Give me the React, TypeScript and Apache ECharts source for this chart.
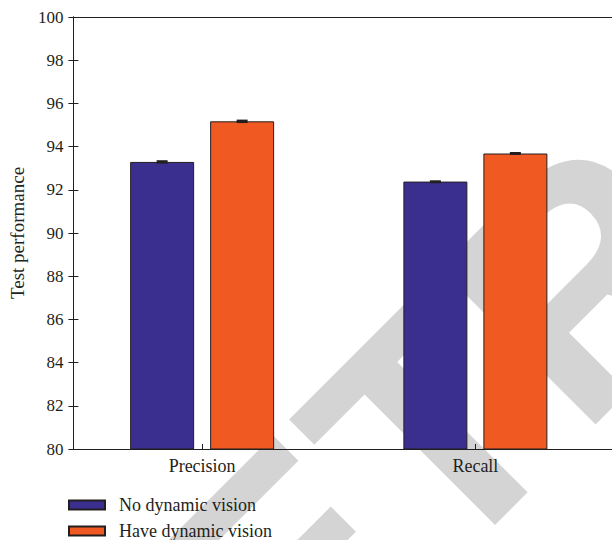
import React, { useEffect, useRef } from "react";
import * as echarts from "echarts";

const categories = ["Precision", "Recall"];
const seriesNames = ["No dynamic vision", "Have dynamic vision"];
const noDynamic = [93.29, 92.38];
const haveDynamic = [95.17, 93.68];
const noDynamicErr = [0.08, 0.06];
const haveDynamicErr = [0.08, 0.07];
const yTicks = { min: 80, max: 100, interval: 2 };

const FONT = "Liberation Serif";
const TEXT = "#231f20";
const BLUE = "#3a2f8f";
const ORANGE = "#f05a22";
const BAR_W = 64;
const BAR_GAP = 16;

function errorSeries(values: number[], errs: number[], side: number) {
  return {
    type: "custom",
    xAxisIndex: 2,
    yAxisIndex: 2,
    z: 5,
    silent: true,
    data: values.map((v, i) => [i, v, errs[i]]),
    renderItem: (params: any, api: any) => {
      const i = api.value(0);
      const v = api.value(1);
      const e = api.value(2);
      const top = api.coord([i, v + e]);
      const bot = api.coord([i, v - e]);
      const cx = top[0] + side * (BAR_W / 2 + BAR_GAP / 2);
      const capW = 11;
      return {
        type: "rect",
        shape: { x: cx - capW / 2, y: top[1], width: capW, height: Math.max(3, bot[1] - top[1]) },
        style: { fill: TEXT },
      };
    },
  };
}

export default function App() {
  const ref = useRef<HTMLDivElement>(null);
  useEffect(() => {
    if (!ref.current) return;
    const chart = echarts.init(ref.current, undefined, { renderer: "svg" });
    const F = 320;
    chart.setOption({
      animation: false,
      backgroundColor: "#ffffff",
      graphic: {
        elements: [
          {
            type: "text",
            x: 747,
            y: 116,
            rotation: Math.PI / 4,
            z: -10,
            silent: true,
            style: {
              text: "RETRACTED",
              fontSize: F,
              fontWeight: "bold",
              fontFamily: "Liberation Sans",
              fill: "#d4d4d4",
              textAlign: "center",
              textVerticalAlign: "middle",
            },
          },
        ],
      },
      grid: [
        { left: 70, top: 17, width: 543, height: 432, containLabel: false },
        { left: 65.5, top: 17, width: 555, height: 432, containLabel: false },
      ],
      xAxis: [
        {
          gridIndex: 0,
          type: "value",
          position: "bottom",
          min: 0,
          max: 1,
          axisLine: { show: true, lineStyle: { color: TEXT, width: 1 } },
          axisTick: { show: false },
          axisLabel: { show: false },
          splitLine: { show: false },
        },
        {
          gridIndex: 0,
          type: "value",
          position: "top",
          min: 0,
          max: 1,
          axisLine: { show: true, lineStyle: { color: TEXT, width: 1 } },
          axisTick: { show: false },
          axisLabel: { show: false },
          splitLine: { show: false },
        },
        {
          gridIndex: 1,
          type: "category",
          data: categories,
          position: "bottom",
          axisLine: { show: false },
          axisTick: { show: true, inside: true, alignWithLabel: true, length: 5, lineStyle: { color: TEXT } },
          axisLabel: { color: TEXT, fontFamily: FONT, fontSize: 18, margin: 8 },
          splitLine: { show: false },
        },
      ],
      yAxis: [
        {
          gridIndex: 0,
          type: "value",
          position: "left",
          min: yTicks.min,
          max: yTicks.max,
          interval: yTicks.interval,
          axisLine: { show: true, lineStyle: { color: TEXT, width: 1 } },
          axisTick: { show: true, inside: true, length: 5, lineStyle: { color: TEXT } },
          axisLabel: { color: TEXT, fontFamily: FONT, fontSize: 17, margin: 10 },
          splitLine: { show: false },
          name: "Test performance",
          nameLocation: "middle",
          nameGap: 45,
          nameTextStyle: { color: TEXT, fontFamily: FONT, fontSize: 19 },
        },
        {
          gridIndex: 0,
          type: "value",
          position: "right",
          min: yTicks.min,
          max: yTicks.max,
          interval: yTicks.interval,
          axisLine: { show: true, lineStyle: { color: TEXT, width: 1 } },
          axisTick: { show: true, inside: true, length: 5, lineStyle: { color: TEXT } },
          axisLabel: { show: false },
          splitLine: { show: false },
        },
        {
          gridIndex: 1,
          type: "value",
          min: yTicks.min,
          max: yTicks.max,
          show: false,
        },
      ],
      legend: {
        data: seriesNames,
        orient: "vertical",
        left: 68,
        top: 496,
        height: 80,
        padding: 0,
        itemWidth: 36,
        itemHeight: 9,
        itemGap: 8,
        icon: "rect",
        textStyle: { color: TEXT, fontFamily: FONT, fontSize: 18, lineHeight: 16, padding: [0, 0, 0, 9] },
      },
      series: [
        {
          name: seriesNames[0],
          type: "bar",
          xAxisIndex: 2,
          yAxisIndex: 2,
          data: noDynamic,
          barWidth: BAR_W,
          barGap: (BAR_GAP / BAR_W) * 100 + "%",
          itemStyle: { color: BLUE, borderColor: TEXT, borderWidth: 1 },
        },
        {
          name: seriesNames[1],
          type: "bar",
          xAxisIndex: 2,
          yAxisIndex: 2,
          data: haveDynamic,
          barWidth: BAR_W,
          barGap: (BAR_GAP / BAR_W) * 100 + "%",
          itemStyle: { color: ORANGE, borderColor: TEXT, borderWidth: 1 },
        },
        errorSeries(noDynamic, noDynamicErr, -1),
        errorSeries(haveDynamic, haveDynamicErr, 1),
      ],
    });
    return () => chart.dispose();
  }, []);
  return (
    <div
      ref={ref}
      style={{ position: "absolute", left: 0, top: 0, width: 612, height: 540 }}
    />
  );
}
